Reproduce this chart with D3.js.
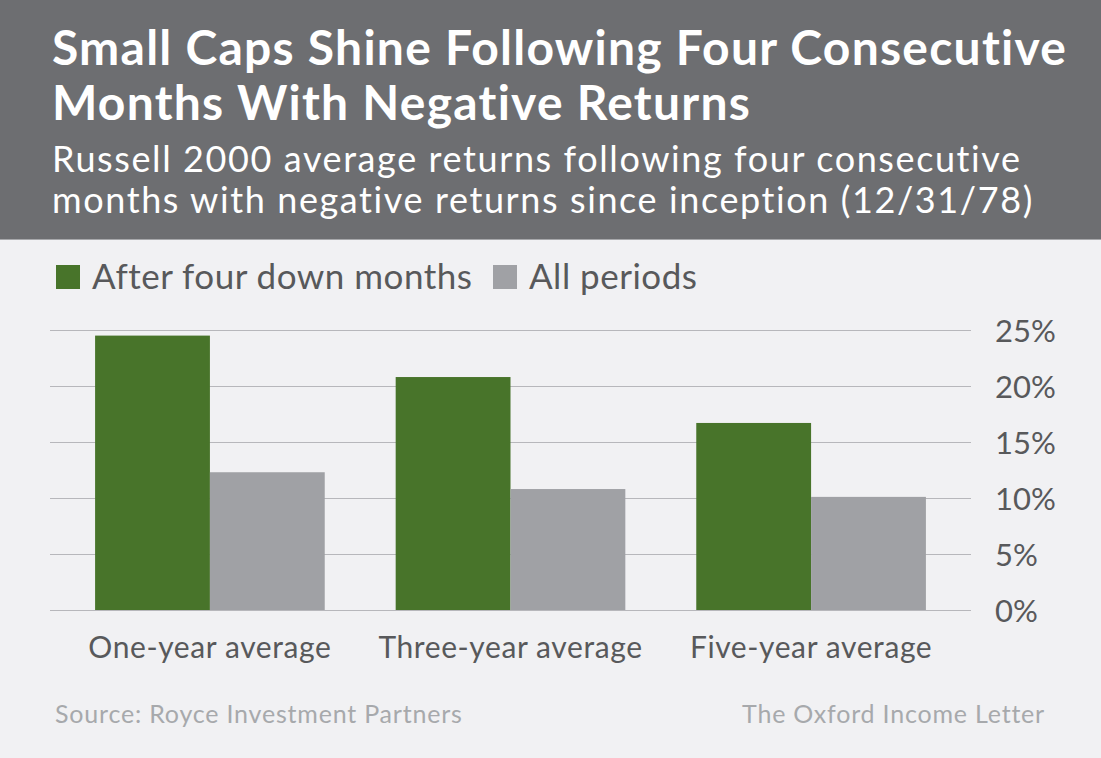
<!DOCTYPE html>
<html>
<head>
<meta charset="utf-8">
<script src="https://cdn.jsdelivr.net/npm/d3@7"></script>
<style>
  body { margin: 0; background: #f1f1f3; }
  svg { display: block; font-family: Lato, 'Open Sans', sans-serif; }
</style>
</head>
<body>
<svg id="chart"></svg>
<script>
const categories = ['One-year average', 'Three-year average', 'Five-year average'];
const seriesNames = ['After four down months', 'All periods'];
const afterDown = [24.5, 20.8, 16.7];
const allPeriods = [12.3, 10.8, 10.1];
const yTicks = [0, 5, 10, 15, 20, 25];

const width = 1101, height = 758;
const green = '#48742a', gray = '#a0a1a5', textCol = '#58595b';

const svg = d3.select('#chart')
  .attr('width', width)
  .attr('height', height);

svg.append('rect')
  .attr('width', width).attr('height', height)
  .attr('fill', '#f1f1f3');

// header band
svg.append('rect')
  .attr('width', width).attr('height', 239)
  .attr('fill', '#6d6e71');
svg.append('line')
  .attr('x1', 0).attr('x2', width)
  .attr('y1', 239.5).attr('y2', 239.5)
  .attr('stroke', '#a7a8ab');

const titleLines = ['Small Caps Shine Following Four Consecutive', 'Months With Negative Returns'];
svg.selectAll('.title')
  .data(titleLines)
  .enter()
  .append('text')
  .attr('class', 'title')
  .attr('x', 52)
  .attr('y', (d, i) => 65 + i * 55)
  .attr('fill', '#fff')
  .style('font-size', '48px')
  .style('font-weight', 700)
  .style('letter-spacing', '1.25px')
  .text(d => d);

const subLines = ['Russell 2000 average returns following four consecutive',
  'months with negative returns since inception (12/31/78)'];
svg.selectAll('.sub')
  .data(subLines)
  .enter()
  .append('text')
  .attr('class', 'sub')
  .attr('x', 52)
  .attr('y', (d, i) => 172 + i * 41)
  .attr('fill', '#fff')
  .style('font-size', '36px')
  .style('letter-spacing', '1.6px')
  .text(d => d);

// legend
const legendX = [56, 493];
const legend = svg.selectAll('.legend')
  .data(seriesNames)
  .enter()
  .append('g')
  .attr('class', 'legend')
  .attr('transform', (d, i) => 'translate(' + legendX[i] + ',265)');
legend.append('rect')
  .attr('width', 24).attr('height', 24)
  .attr('fill', (d, i) => i === 0 ? green : gray);
legend.append('text')
  .attr('x', 36).attr('y', 24)
  .attr('fill', textCol)
  .style('font-size', '35px')
  .style('letter-spacing', '0.5px')
  .text(d => d);

// scales
const x0 = d3.scaleBand()
  .domain(categories)
  .range([50, 971])
  .paddingInner(0.236)
  .paddingOuter(0.15);

const x1 = d3.scaleBand()
  .domain(seriesNames)
  .range([0, x0.bandwidth()]);

const y = d3.scaleLinear()
  .domain([0, 25])
  .range([610, 330]);

// gridlines
svg.append('g')
  .selectAll('line')
  .data(yTicks)
  .enter()
  .append('line')
  .attr('x1', 50).attr('x2', 971)
  .attr('y1', d => Math.round(y(d)) + 0.5)
  .attr('y2', d => Math.round(y(d)) + 0.5)
  .attr('stroke', '#b7b7bb')
  .attr('stroke-width', 1.2);

// bars
const rows = categories.map((c, i) => ({ cat: c, vals: [afterDown[i], allPeriods[i]] }));
const group = svg.selectAll('.grp')
  .data(rows)
  .enter()
  .append('g')
  .attr('class', 'grp')
  .attr('transform', d => 'translate(' + x0(d.cat) + ',0)');

group.selectAll('rect')
  .data(d => d.vals.map((v, i) => ({ key: seriesNames[i], v: v })))
  .enter()
  .append('rect')
  .attr('x', d => x1(d.key))
  .attr('y', d => y(d.v))
  .attr('width', x1.bandwidth())
  .attr('height', d => y(0) - y(d.v))
  .attr('fill', (d, i) => i === 0 ? green : gray);

// y axis labels on the right
const yAxis = d3.axisRight(y)
  .tickValues(yTicks)
  .tickSize(0)
  .tickPadding(0)
  .tickFormat(d => d + '%');
const yg = svg.append('g')
  .attr('transform', 'translate(995,0)')
  .call(yAxis);
yg.select('.domain').remove();
yg.selectAll('text')
  .attr('fill', textCol)
  .attr('dy', '0.36em')
  .style('font-size', '31px')
  .style('font-family', 'Lato, sans-serif');

// category labels
const xAxis = d3.axisBottom(x0).tickSize(0).tickPadding(0);
const xg = svg.append('g')
  .attr('transform', 'translate(0,610)')
  .call(xAxis);
xg.select('.domain').remove();
xg.selectAll('text')
  .attr('y', 48)
  .attr('dy', 0)
  .attr('fill', textCol)
  .style('font-size', '30px')
  .style('letter-spacing', '0.6px')
  .style('font-family', 'Lato, sans-serif');

// footer
svg.append('text')
  .attr('x', 55).attr('y', 723)
  .attr('fill', '#a7a9ac')
  .style('font-size', '25px')
  .style('letter-spacing', '0.8px')
  .text('Source: Royce Investment Partners');
svg.append('text')
  .attr('x', 1045).attr('y', 723)
  .attr('text-anchor', 'end')
  .attr('fill', '#a7a9ac')
  .style('font-size', '25px')
  .style('letter-spacing', '0.8px')
  .text('The Oxford Income Letter');
</script>
</body>
</html>
